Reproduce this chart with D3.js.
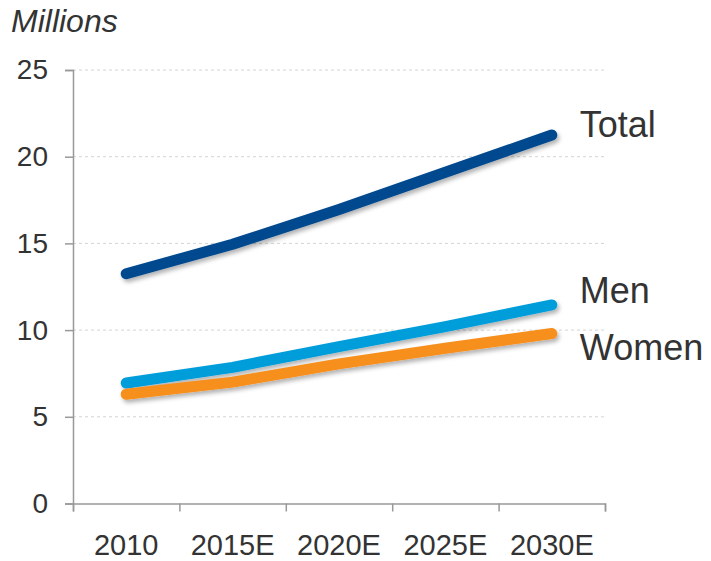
<!DOCTYPE html>
<html>
<head>
<meta charset="utf-8">
<script src="https://cdn.jsdelivr.net/npm/d3@7"></script>
<style>
  body { margin: 0; background: #fff; }
  svg { display: block; font-family: "Liberation Sans", Arial, sans-serif; }
</style>
</head>
<body>
<div id="chart-area"></div>
<script>
// data (millions)
var years = ["2010", "2015E", "2020E", "2025E", "2030E"];
var total = [13.25, 14.95, 16.95, 19.1, 21.25];
var men   = [6.95, 7.85, 9.05, 10.2, 11.45];
var women = [6.3, 7.0, 8.05, 8.95, 9.8];
var seriesNames = ["Total", "Men", "Women"];
var yTicks = [0, 5, 10, 15, 20, 25];

var width = 711;
var height = 561;
var margin = { top: 70, right: 106, bottom: 57.5, left: 73 };
var chartWidth = width - margin.left - margin.right;
var chartHeight = height - margin.top - margin.bottom;

var colors = { Total: "#004a8f", Men: "#009ddb", Women: "#f68f1f" };
var labelDy = { Total: 2, Men: -2, Women: 26 };

var series = [
  { name: seriesNames[0], values: total },
  { name: seriesNames[1], values: men },
  { name: seriesNames[2], values: women }
];

var svg = d3.select("#chart-area")
  .append("svg")
  .attr("width", width)
  .attr("height", height);

var defs = svg.append("defs");
defs.append("filter")
  .attr("id", "shadow")
  .attr("x", "-10%").attr("y", "-50%")
  .attr("width", "130%").attr("height", "200%")
  .append("feDropShadow")
  .attr("dx", 2).attr("dy", 3)
  .attr("stdDeviation", 2)
  .attr("flood-color", "#000")
  .attr("flood-opacity", 0.3);

var g = svg.append("g")
  .attr("transform", "translate(" + margin.left + ", " + margin.top + ")");

var x = d3.scaleBand()
  .domain(years)
  .range([0, chartWidth])
  .padding(0);

var y = d3.scaleLinear()
  .domain([0, 25])
  .range([chartHeight, 0]);

// gridlines
g.append("g")
  .selectAll("line")
  .data(yTicks.filter(d => d > 0))
  .enter().append("line")
  .attr("x1", 0)
  .attr("x2", chartWidth)
  .attr("y1", d => y(d))
  .attr("y2", d => y(d))
  .attr("stroke", "#d4d4d4")
  .attr("stroke-width", 1)
  .attr("stroke-dasharray", "3,3");

// y axis
var yAxisG = g.append("g")
  .call(d3.axisLeft(y).tickValues(yTicks).tickSize(8).tickPadding(17));
yAxisG.selectAll("text")
  .style("font-size", "28px")
  .style("fill", "#333");

// x axis: ticks on band boundaries, labels at band centres
var bounds = d3.scaleLinear().domain([0, years.length]).range([0, chartWidth]);
var xAxisG = g.append("g")
  .attr("transform", "translate(0, " + chartHeight + ")")
  .call(d3.axisBottom(bounds).tickValues(d3.range(years.length + 1)).tickSize(8).tickFormat(""));

var xLabels = g.append("g")
  .attr("transform", "translate(0, " + chartHeight + ")")
  .call(d3.axisBottom(x).tickSize(0).tickPadding(31));
xLabels.select(".domain").remove();
xLabels.selectAll("text")
  .style("font-size", "29px")
  .style("fill", "#333");

svg.selectAll(".domain, .tick line")
  .attr("stroke", "#999")
  .attr("stroke-width", 1.5);

// lines
var line = d3.line()
  .x((d, i) => x(years[i]) + x.bandwidth() / 2)
  .y(d => y(d));

g.append("g")
  .selectAll("path")
  .data(series)
  .enter().append("path")
  .attr("d", d => line(d.values))
  .attr("fill", "none")
  .attr("stroke", d => colors[d.name])
  .attr("stroke-width", 11)
  .attr("stroke-linecap", "round")
  .attr("stroke-linejoin", "round")
  .attr("filter", "url(#shadow)");

// end labels
g.append("g")
  .selectAll("text")
  .data(series)
  .enter().append("text")
  .attr("x", x(years[years.length - 1]) + x.bandwidth() / 2 + 28)
  .attr("y", d => y(d.values[d.values.length - 1]) + labelDy[d.name])
  .style("font-size", "36px")
  .style("fill", "#333")
  .text(d => d.name);

// unit label
svg.append("text")
  .attr("x", 11)
  .attr("y", 32)
  .style("font-size", "32px")
  .style("font-style", "italic")
  .style("fill", "#333")
  .text("Millions");
</script>
</body>
</html>
